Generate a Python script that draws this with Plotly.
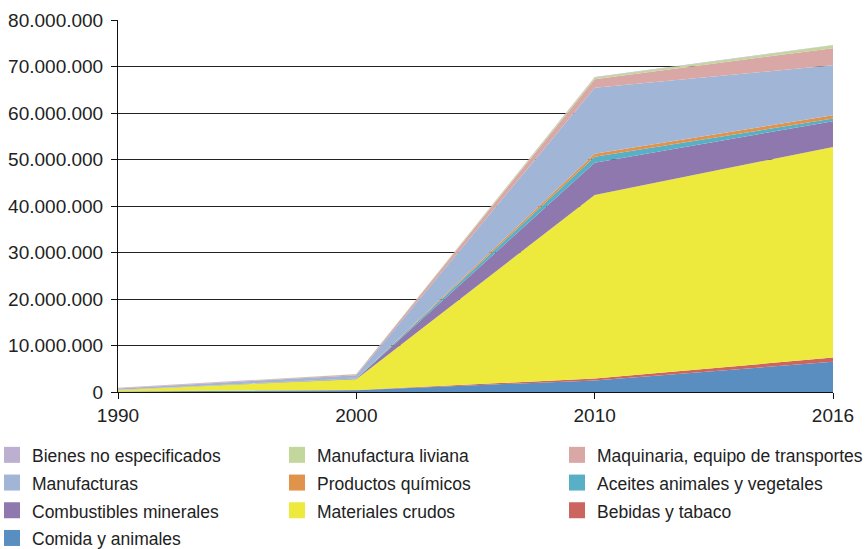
import plotly.graph_objects as go

years = ["1990", "2000", "2010", "2016"]

# stacking order, bottom to top
comida = [100000, 400000, 2500000, 6500000]
bebidas = [20000, 50000, 380000, 900000]
materiales = [300000, 2300000, 39500000, 45300000]
combustibles = [20000, 100000, 6900000, 5550000]
aceites = [10000, 30000, 1300000, 550000]
quimicos = [20000, 40000, 650000, 700000]
manufacturas = [300000, 700000, 14200000, 10750000]
maquinaria = [80000, 200000, 1850000, 3700000]
liviana = [20000, 40000, 350000, 600000]
bienes = [30000, 30000, 100000, 100000]

series = {
    "Comida y animales": (comida, "#5A8DC0"),
    "Bebidas y tabaco": (bebidas, "#CB6560"),
    "Materiales crudos": (materiales, "#EDE93D"),
    "Combustibles minerales": (combustibles, "#8E78AD"),
    "Aceites animales y vegetales": (aceites, "#57B0C6"),
    "Productos químicos": (quimicos, "#E0934B"),
    "Manufacturas": (manufacturas, "#A1B6D6"),
    "Maquinaria, equipo de transportes": (maquinaria, "#D9A7A5"),
    "Manufactura liviana": (liviana, "#C3D69B"),
    "Bienes no especificados": (bienes, "#BCAFCF"),
}

legend_columns = [
    ["Bienes no especificados", "Manufacturas", "Combustibles minerales", "Comida y animales"],
    ["Manufactura liviana", "Productos químicos", "Materiales crudos"],
    ["Maquinaria, equipo de transportes", "Aceites animales y vegetales", "Bebidas y tabaco"],
]

y_ticks = [0, 10000000, 20000000, 30000000, 40000000, 50000000, 60000000, 70000000, 80000000]

fig = go.Figure()
for name, (vals, col) in series.items():
    fig.add_trace(go.Scatter(
        x=years, y=vals, name=name, mode="lines", stackgroup="one",
        line=dict(width=0, color=col), fillcolor=col, showlegend=False,
        hoverinfo="skip",
    ))

legend_ids = ["legend", "legend2", "legend3"]
for lid, column in zip(legend_ids, legend_columns):
    for name in column:
        col = series[name][1]
        fig.add_trace(go.Scatter(
            x=[years[0]], y=[None],
            name='<span style="font-size:17.5px">' + name + '</span>',
            mode="markers", marker=dict(symbol="square", size=17, color=col),
            legend=lid, showlegend=True, hoverinfo="skip",
        ))

W, H = 867, 549
L, R, T, B = 118, 34, 20, 157
pw, ph = W - L - R, H - T - B

legend_left_px = [-8, 277, 557]
legend_top_px = 436


def make_legend(left_px):
    return dict(
        orientation="v", xref="paper", yref="paper",
        x=(left_px - L) / pw, xanchor="left",
        y=-(legend_top_px - (H - B)) / ph, yanchor="top",
        traceorder="normal", itemwidth=30,
        font=dict(family="Liberation Sans, Arial, sans-serif", size=19, color="#222222"),
        bgcolor="rgba(0,0,0,0)", borderwidth=0,
    )


fig.update_layout(
    width=W, height=H,
    margin=dict(l=L, r=R, t=T, b=B, autoexpand=False),
    paper_bgcolor="white", plot_bgcolor="white",
    separators=",.",
    font=dict(family="Liberation Sans, Arial, sans-serif", size=19, color="#222222"),
    legend=make_legend(legend_left_px[0]),
    legend2=make_legend(legend_left_px[1]),
    legend3=make_legend(legend_left_px[2]),
    xaxis=dict(
        type="category", range=[0, 3], showgrid=False, automargin=False,
        showline=True, linecolor="#111111", linewidth=1,
        ticks="outside", ticklen=6, tickcolor="#111111",
        tickfont=dict(size=19), zeroline=False, fixedrange=True,
    ),
    yaxis=dict(
        range=[0, 80000000], tickvals=y_ticks, tickformat=",d", automargin=False,
        showgrid=True, gridcolor="#222222", gridwidth=1,
        showline=True, linecolor="#111111", linewidth=1,
        ticks="outside", ticklen=6, tickcolor="#111111", ticklabelstandoff=4,
        tickfont=dict(size=19), zeroline=False, fixedrange=True,
    ),
)

fig.write_html(
    "out.html",
    config={"displayModeBar": False, "staticPlot": True},
    post_script="document.body.style.margin='0';document.body.style.overflow='hidden';",
)
